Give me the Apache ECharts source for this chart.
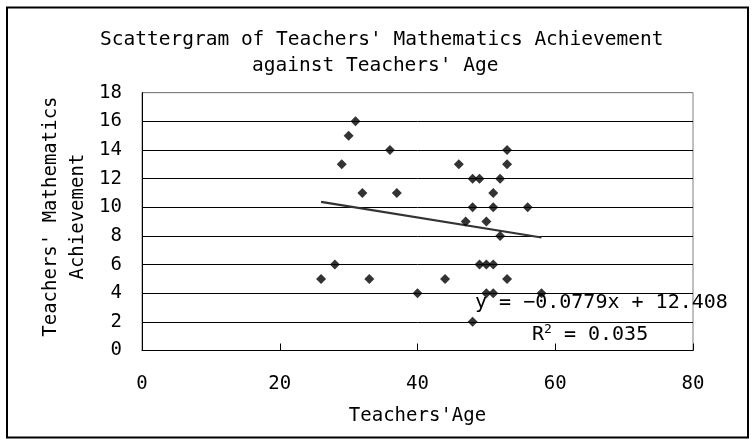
<!DOCTYPE html>
<html>
<head>
<meta charset="utf-8">
<style>html,body{margin:0;padding:0;background:#fff}#chart{width:754px;height:444px}</style>
<script src="https://cdn.jsdelivr.net/npm/echarts@6/dist/echarts.min.js"></script>
</head>
<body>
<div id="chart"></div>
<script>
// Data
const ages   = [31,30,36,29,32,37,28,26,33,40, 53,46,53,48,49,52,51,48,51,56, 47,50,52,49,50,51,44,53,50,51, 58,48];
const scores = [16,15,14,13,11,11, 6, 5, 5, 4, 14,13,13,12,12,12,11,10,10,10,  9, 9, 8, 6, 6, 6, 5, 5, 4, 4,  4, 2];
const trendSlope = -0.0779;
const trendIntercept = 12.408;
const trendR2 = 0.035;
const xTicks = [0, 20, 40, 60, 80];
const yTicks = [0, 2, 4, 6, 8, 10, 12, 14, 16, 18];
const titleLines = ["Scattergram of Teachers' Mathematics Achievement", "against Teachers' Age"];
const xName = "Teachers'Age";
const yName = "Teachers' Mathematics\nAchievement";

const FONT = "'DejaVu Sans Mono', 'Liberation Mono', monospace";
const points = ages.map((a, i) => [a, scores[i]]);
const xMinData = Math.min(...ages), xMaxData = Math.max(...ages);
const trend = [xMinData, xMaxData].map(x => [x, trendSlope * x + trendIntercept]);
const fmt = v => (v < 0 ? '\u2212' : '') + Math.abs(v).toFixed(4);

const chart = echarts.init(document.getElementById('chart'), null, {renderer: 'canvas'});
const splitColors = yTicks.map((t, i) => i === yTicks.length - 1 ? '#808080' : '#000');
chart.setOption({
  animation: false,
  backgroundColor: '#fff',
  grid: {left: 142, right: 61, top: 92.7, bottom: 93.5, show: true, borderColor: '#808080', borderWidth: 1, containLabel: false},
  xAxis: {
    type: 'value', min: xTicks[0], max: xTicks[xTicks.length - 1], interval: xTicks[1] - xTicks[0],
    name: xName, nameLocation: 'middle', nameGap: 56, nameMoveOverlap: false,
    nameTextStyle: {fontFamily: FONT, fontSize: 19, color: '#000'},
    axisLine: {show: true, lineStyle: {color: '#000', width: 1}},
    axisTick: {show: true, inside: true, length: 7, lineStyle: {color: '#000'}},
    axisLabel: {fontFamily: FONT, fontSize: 19, color: '#000', margin: 24},
    splitLine: {show: false}
  },
  yAxis: {
    type: 'value', min: yTicks[0], max: yTicks[yTicks.length - 1], interval: yTicks[1] - yTicks[0],
    name: yName, nameLocation: 'middle', nameGap: 50, nameRotate: 90, nameMoveOverlap: false,
    nameTextStyle: {fontFamily: FONT, fontSize: 19, color: '#000', lineHeight: 27.5, align: 'center', padding: [0, 0, 0, 10]},
    axisLine: {show: true, lineStyle: {color: '#000', width: 1}},
    axisTick: {show: false},
    axisLabel: {fontFamily: FONT, fontSize: 19, color: '#000', margin: 20},
    splitLine: {show: true, lineStyle: {color: splitColors, width: 1}}
  },
  series: [
    {
      type: 'line', data: trend, symbol: 'none', silent: true,
      lineStyle: {color: '#333', width: 2.2}, z: 2
    },
    {
      type: 'scatter', data: points, symbol: 'diamond', symbolSize: 10,
      itemStyle: {color: '#000'}, z: 3
    }
  ],
  graphic: [
    {type: 'rect', shape: {x: 7, y: 7.5, width: 741, height: 430}, style: {fill: 'none', stroke: '#000', lineWidth: 2}, z: 100},
    {type: 'text', x: 100, y: 39.5, style: {text: titleLines[0], font: '19.5px ' + FONT, fill: '#000', textAlign: 'left', textVerticalAlign: 'middle'}},
    {type: 'text', x: 252, y: 66, style: {text: titleLines[1], font: '19.5px ' + FONT, fill: '#000', textAlign: 'left', textVerticalAlign: 'middle'}},
    {type: 'text', x: 475, y: 303, z: 50, style: {text: 'y = ' + fmt(trendSlope) + 'x + ' + trendIntercept.toFixed(3), font: '20px ' + FONT, fill: '#000', textAlign: 'left', textVerticalAlign: 'middle'}},
    {type: 'text', x: 532, y: 335, z: 50, style: {
      text: '{r|R}{s|2}{r| = ' + trendR2.toFixed(3) + '}',
      rich: {r: {fontFamily: FONT, fontSize: 20, fill: '#000', color: '#000'}, s: {fontFamily: FONT, fontSize: 13, color: '#000', verticalAlign: 'top', padding: [0, 0, 10, 0]}},
      textAlign: 'left', textVerticalAlign: 'middle'}}
  ]
});
</script>
</body>
</html>
